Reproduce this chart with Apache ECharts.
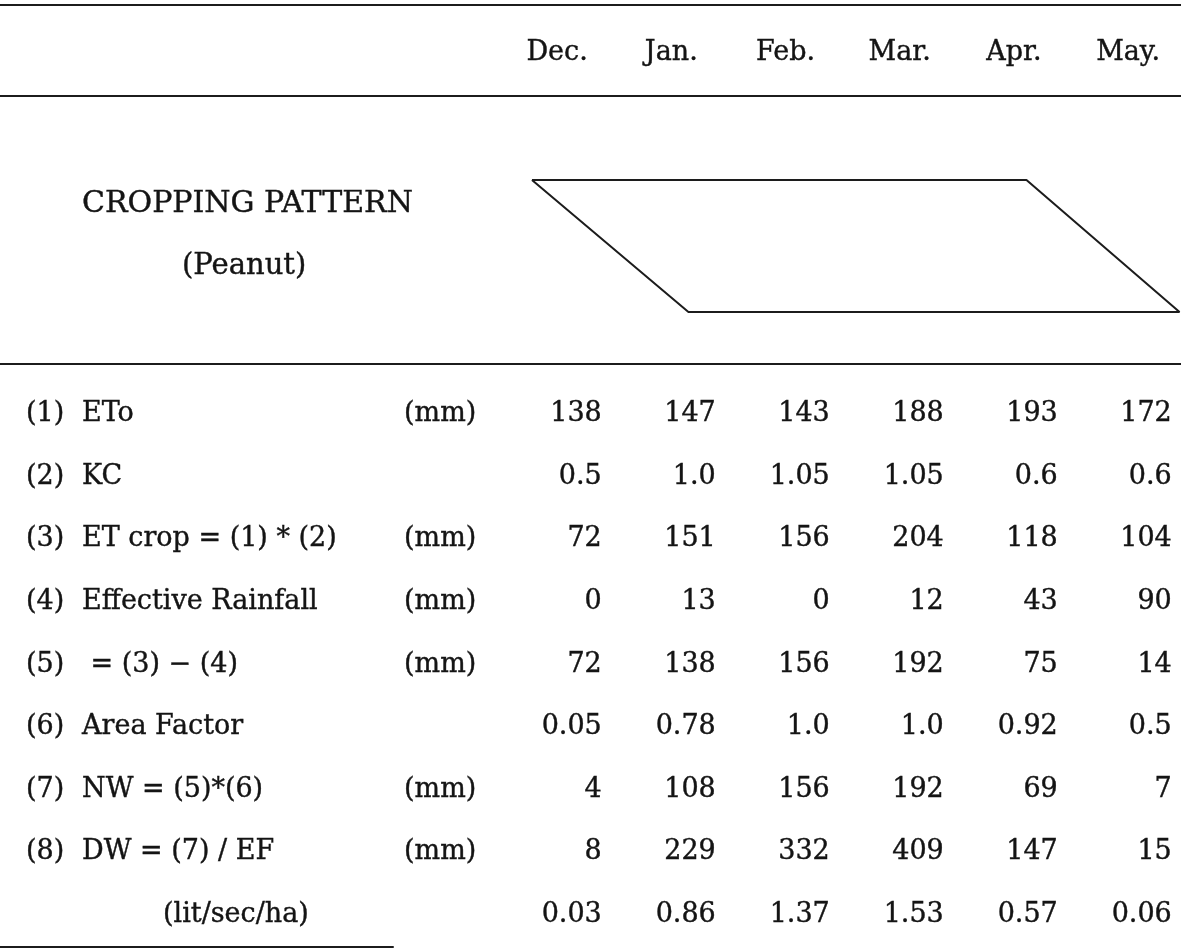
<!DOCTYPE html>
<html>
<head>
<meta charset="utf-8">
<script src="https://cdn.jsdelivr.net/npm/echarts@6/dist/echarts.min.js"></script>
<style>html,body{margin:0;padding:0;background:#fff}#c{width:1181px;height:952px}</style>
</head>
<body>
<div id="c"></div>
<script>
// ---- data ----
const months = ['Dec.', 'Jan.', 'Feb.', 'Mar.', 'Apr.', 'May.'];
const rowNums = ['(1)', '(2)', '(3)', '(4)', '(5)', '(6)', '(7)', '(8)', ''];
const rowNames = ['ETo', 'KC', 'ET crop = (1) * (2)', 'Effective Rainfall', ' = (3) \u2212 (4)',
  'Area Factor', 'NW = (5)*(6)', 'DW = (7) / EF', '(lit/sec/ha)'];
const rowUnits = ['(mm)', '', '(mm)', '(mm)', '(mm)', '', '(mm)', '(mm)', ''];
const eto = ['138', '147', '143', '188', '193', '172'];
const kc = ['0.5', '1.0', '1.05', '1.05', '0.6', '0.6'];
const etCrop = ['72', '151', '156', '204', '118', '104'];
const effRainfall = ['0', '13', '0', '12', '43', '90'];
const netDemand = ['72', '138', '156', '192', '75', '14'];
const areaFactor = ['0.05', '0.78', '1.0', '1.0', '0.92', '0.5'];
const netWater = ['4', '108', '156', '192', '69', '7'];
const diversionWater = ['8', '229', '332', '409', '147', '15'];
const diversionRate = ['0.03', '0.86', '1.37', '1.53', '0.57', '0.06'];
// cropping pattern (Peanut), in months counted from the start of December
const plantingStart = 0.28, plantingEnd = 1.65, harvestStart = 4.61, harvestEnd = 5.95;

const rows = [eto, kc, etCrop, effRainfall, netDemand, areaFactor, netWater, diversionWater, diversionRate];

// ---- chart ----
const FONT = 'DejaVu Serif';
const INK = '#141414';
const heavy = { textBorderColor: INK, textBorderWidth: 0.4 };
const ruleStyle = { show: true, onZero: false, lineStyle: { color: '#1c1c1c', width: 2 } };

const cells = [];
rows.forEach((vals, r) => vals.forEach((v, c) => cells.push({ value: [c, r], name: v })));

const txt = (size) => Object.assign({ fontFamily: FONT, fontSize: size, color: INK }, heavy);

const chart = echarts.init(document.getElementById('c'), null, { renderer: 'canvas' });
chart.setOption({
  animation: false,
  backgroundColor: '#ffffff',
  title: [
    { text: 'CROPPING PATTERN', left: 82, top: 189, padding: 0,
      textStyle: Object.assign(txt(30), { fontWeight: 'normal' }) },
    { text: '(Peanut)', left: 182, top: 252, padding: 0,
      textStyle: Object.assign(txt(29), { fontWeight: 'normal' }) }
  ],
  grid: [
    { left: 0, right: 0, top: 5, height: 91 },       // header
    { left: 0, right: 0, top: 180, height: 132 },    // cropping pattern
    { left: 0, right: 0, top: 383, height: 563 },    // table body
    { left: 0, width: 393, top: 383, height: 564 }   // bottom rule
  ],
  xAxis: [
    { gridIndex: 0, type: 'value', position: 'bottom', min: -4.378, max: 5.963,
      axisLine: ruleStyle, axisTick: { show: false }, splitLine: { show: false },
      axisLabel: Object.assign({ inside: true, margin: 43, verticalAlign: 'middle',
        customValues: months.map((m, i) => i + 0.5),
        formatter: v => months[Math.round(v - 0.5)] }, txt(27)) },
    { gridIndex: 0, type: 'value', position: 'top', min: 0, max: 1,
      axisLine: ruleStyle, axisTick: { show: false }, splitLine: { show: false }, axisLabel: { show: false } },
    { gridIndex: 1, type: 'value', min: -4.378, max: 5.963, show: false },
    { gridIndex: 2, type: 'value', position: 'top', offset: 19, min: -5.279, max: 5.081,
      axisLine: ruleStyle, axisTick: { show: false }, splitLine: { show: false }, axisLabel: { show: false } },
    { gridIndex: 3, type: 'value', position: 'bottom', min: 0, max: 1,
      axisLine: ruleStyle, axisTick: { show: false }, splitLine: { show: false }, axisLabel: { show: false } }
  ],
  yAxis: [
    { gridIndex: 0, type: 'value', show: false },
    { gridIndex: 1, type: 'value', min: 0, max: 1, show: false },
    { gridIndex: 2, type: 'category', inverse: true, data: rowNames.map((n, i) => String(i)),
      axisLine: { show: false }, axisTick: { show: false }, splitLine: { show: false },
      axisLabel: Object.assign({
        interval: 0, align: 'left', margin: -26,
        formatter: (v, i) => i === 8
          ? '{ind| }{t|' + rowNames[i] + '}'
          : '{n|' + rowNums[i] + '}{t|' + rowNames[i] + '}' + (rowUnits[i] ? '{u|' + rowUnits[i] + '}' : ''),
        rich: {
          n: Object.assign({ width: 56 }, txt(27)),
          t: Object.assign({ width: 322 }, txt(27)),
          u: txt(27),
          ind: Object.assign({ width: 137 }, txt(27))
        }
      }, txt(27)) },
    { gridIndex: 3, type: 'value', show: false }
  ],
  series: [
    { type: 'line', xAxisIndex: 2, yAxisIndex: 1, clip: false, symbol: 'none', silent: true,
      lineStyle: { color: '#1c1c1c', width: 2 },
      data: [[plantingStart, 1], [harvestStart, 1], [harvestEnd, 0], [plantingEnd, 0], [plantingStart, 1]] },
    { type: 'scatter', xAxisIndex: 3, yAxisIndex: 2, symbolSize: 0, silent: true,
      itemStyle: { opacity: 1 },
      label: Object.assign({ show: true, position: 'left', distance: 0, formatter: '{b}' }, txt(27)),
      data: cells }
  ]
});
</script>
</body>
</html>
